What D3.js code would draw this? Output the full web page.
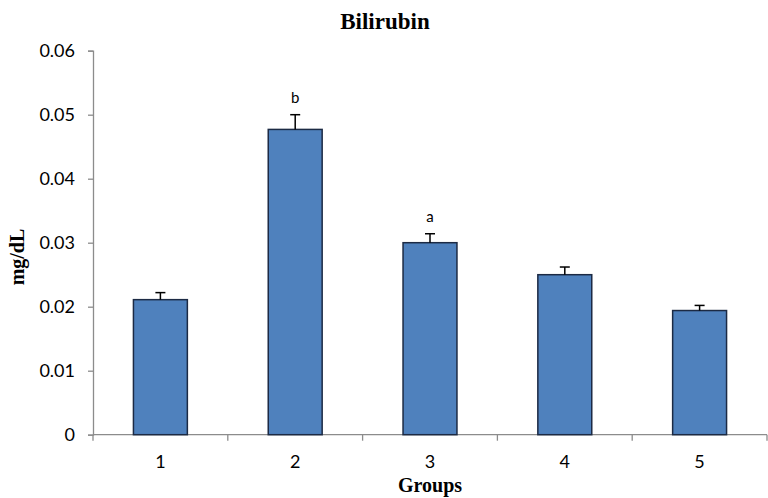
<!DOCTYPE html>
<html>
<head>
<meta charset="utf-8">
<script src="https://cdn.jsdelivr.net/npm/d3@7"></script>
<style>
  html, body { margin: 0; padding: 0; background: #fff; }
  svg { display: block; }
</style>
</head>
<body>
<svg id="chart" width="768" height="498"></svg>
<script>
// Serum bilirubin by group (mean ± SE)
const groups = ["1", "2", "3", "4", "5"];
const means = [0.0211, 0.0477, 0.0300, 0.0250, 0.0194];
const errors = [0.0011, 0.0023, 0.0014, 0.0012, 0.0008];
const sigLetters = ["", "b", "a", "", ""];
const yTicks = [0, 0.01, 0.02, 0.03, 0.04, 0.05, 0.06];
const yTickLabels = ["0", "0.01", "0.02", "0.03", "0.04", "0.05", "0.06"];

const svg = d3.select("#chart");
const plotLeft = 93, plotRight = 767, plotTop = 50.7, plotBottom = 434.7;

const x = d3.scaleBand().domain(groups).range([plotLeft, plotRight]).paddingInner(0.6).paddingOuter(0.3);
const y = d3.scaleLinear().domain([0, 0.06]).range([plotBottom, plotTop]);

const serif = "'Liberation Serif', 'Times New Roman', serif";
const sans = "Lato, 'Liberation Sans', Arial, sans-serif";
const axisColor = "#8c8c8c";

// Y axis
const yAxis = svg.append("g")
  .attr("transform", `translate(${plotLeft},0)`)
  .call(d3.axisLeft(y).tickValues(yTicks).tickFormat((d, i) => yTickLabels[i]).tickSizeOuter(0).tickSize(5).tickPadding(13));
yAxis.select(".domain").attr("stroke", axisColor).attr("stroke-width", 1.3);
yAxis.selectAll(".tick line").attr("stroke", axisColor).attr("stroke-width", 1.3);
yAxis.selectAll(".tick text").attr("font-family", sans).attr("font-size", 18).attr("fill", "#000");

// X axis with ticks on category boundaries
const xAxisG = svg.append("g").attr("transform", `translate(0,${plotBottom})`);
xAxisG.append("line").attr("x1", plotLeft).attr("x2", plotRight).attr("y1", 0).attr("y2", 0)
  .attr("stroke", axisColor).attr("stroke-width", 1.3);
const step = x.step();
const boundaries = d3.range(groups.length + 1).map(i => plotLeft + i * step);
xAxisG.selectAll(".xtick").data(boundaries).enter().append("line")
  .attr("x1", d => d).attr("x2", d => d).attr("y1", 0).attr("y2", 6)
  .attr("stroke", axisColor).attr("stroke-width", 1.3);
xAxisG.selectAll(".xlabel").data(groups).enter().append("text")
  .attr("x", d => x(d) + x.bandwidth() / 2).attr("y", 33)
  .attr("text-anchor", "middle").attr("font-family", sans).attr("font-size", 18)
  .text(d => d);

// Bars
svg.selectAll(".bar").data(groups).enter().append("rect")
  .attr("x", d => x(d)).attr("width", x.bandwidth())
  .attr("y", (d, i) => y(means[i])).attr("height", (d, i) => y(0) - y(means[i]))
  .attr("fill", "#4F81BD").attr("stroke", "#1c2a44").attr("stroke-width", 1.5);

// Error bars (upper only)
const err = svg.selectAll(".err").data(groups).enter().append("g");
err.append("line")
  .attr("x1", d => x(d) + x.bandwidth() / 2).attr("x2", d => x(d) + x.bandwidth() / 2)
  .attr("y1", (d, i) => y(means[i])).attr("y2", (d, i) => y(means[i] + errors[i]))
  .attr("stroke", "#000").attr("stroke-width", 1.5);
err.append("line")
  .attr("x1", d => x(d) + x.bandwidth() / 2 - 5).attr("x2", d => x(d) + x.bandwidth() / 2 + 5)
  .attr("y1", (d, i) => y(means[i] + errors[i])).attr("y2", (d, i) => y(means[i] + errors[i]))
  .attr("stroke", "#000").attr("stroke-width", 1.5);

// Significance letters
svg.selectAll(".sig").data(groups).enter().append("text")
  .attr("x", d => x(d) + x.bandwidth() / 2)
  .attr("y", (d, i) => y(means[i] + errors[i]) - 12)
  .attr("text-anchor", "middle").attr("font-family", sans)
  .attr("font-size", 15).text((d, i) => sigLetters[i]);

// Title and axis titles
svg.append("text").attr("x", 385).attr("y", 29).attr("text-anchor", "middle")
  .attr("font-family", serif).attr("font-weight", "bold").attr("font-size", 23).text("Bilirubin");
svg.append("text").attr("x", 430).attr("y", 492).attr("text-anchor", "middle")
  .attr("font-family", serif).attr("font-weight", "bold").attr("font-size", 20).text("Groups");
svg.append("text").attr("transform", "translate(24,257) rotate(-90)").attr("text-anchor", "middle")
  .attr("font-family", serif).attr("font-weight", "bold").attr("font-size", 20).text("mg/dL");
</script>
</body>
</html>
